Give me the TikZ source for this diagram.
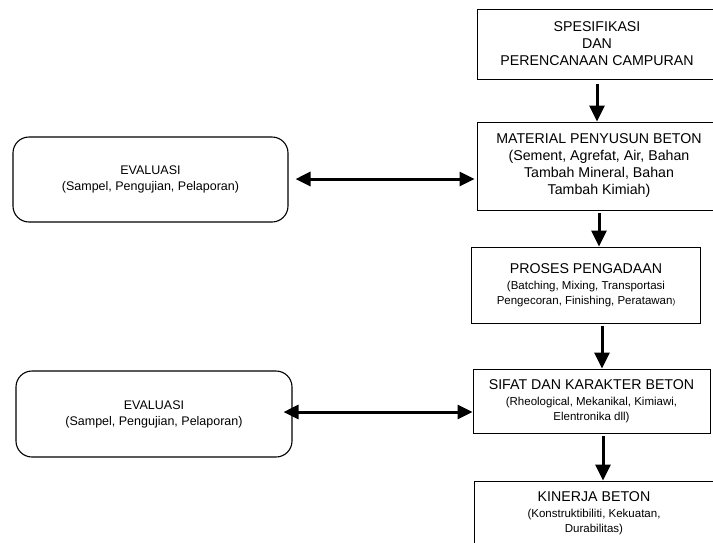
\documentclass[tikz,border=0pt]{standalone}
\usepackage{fontspec}
\setmainfont{Liberation Sans}
\usetikzlibrary{arrows.meta}
\begin{document}
\begin{tikzpicture}[x=1pt,y=-1pt,
  box/.style={draw,line width=1pt,align=center,inner sep=0pt},
  evalbox/.style={draw,line width=1.1pt,rounded corners=16pt,align=center,inner sep=0pt,
    font=\fontsize{12.5}{16}\selectfont},
  flow/.style={line width=3pt,-{Triangle[length=16pt,width=15pt]}},
  twoway/.style={line width=3pt,{Triangle[length=15pt,width=14pt]}-{Triangle[length=15pt,width=14pt]}},
  bigtext/.style={font=\fontsize{14.2}{17}\selectfont},
  smalltext/.style={font=\fontsize{11.5}{15}\selectfont}]
\useasboundingbox (0,0) rectangle (713,542);
\clip (0,0) rectangle (713,542);
\node[box,bigtext,minimum width=240pt,minimum height=70pt] (b1) at (597,44)
  {SPESIFIKASI\\DAN\\PERENCANAAN CAMPURAN};
\node[box,bigtext,minimum width=244pt,minimum height=88pt] (b2) at (599,166)
  {MATERIAL PENYUSUN BETON\\(Sement, Agrefat, Air, Bahan\\Tambah Mineral, Bahan\\Tambah Kimiah)};
\node[box,smalltext,minimum width=229pt,minimum height=76pt] (b3) at (586,285)
  {{\fontsize{14.2}{17}\selectfont PROSES PENGADAAN}\\[1pt](Batching, Mixing, Transportasi\\Pengecoran, Finishing, Peratawan{\fontsize{8}{8}\selectfont)}};
\node[box,smalltext,minimum width=237pt,minimum height=64pt] (b4) at (591.5,401)
  {{\fontsize{14.2}{17}\selectfont SIFAT DAN KARAKTER BETON}\\[1pt](Rheological, Mekanikal, Kimiawi,\\Elentronika dll)};
\node[box,smalltext,minimum width=240pt,minimum height=65pt] (b5) at (594,513.5)
  {{\fontsize{14.2}{17}\selectfont KINERJA BETON}\\[1pt](Konstruktibiliti, Kekuatan,\\Durabilitas)};
\node[evalbox,minimum width=275pt,minimum height=85pt] (e1) at (150.5,179.5)
  {EVALUASI\\(Sampel, Pengujian, Pelaporan)};
\node[evalbox,minimum width=276pt,minimum height=86pt] (e2) at (154,414)
  {EVALUASI\\(Sampel, Pengujian, Pelaporan)};
\draw[flow,shorten <=4pt] (b1.south) -- (b1.south |- b2.north);
\draw[flow,shorten <=2pt] (b2.south) -- (b2.south |- b3.north);
\draw[flow,shorten <=2pt] ([xshift=16pt]b3.south) -- ([xshift=16pt]b3.south |- b4.north);
\draw[flow,shorten <=2pt] ([xshift=11.5pt]b4.south) -- ([xshift=11.5pt]b4.south |- b5.north);
\draw[twoway,shorten <=7pt,shorten >=2pt] ([yshift=0.5pt]e1.east) -- ([yshift=0.5pt]e1.east -| b2.west);
\draw[twoway] ([xshift=-9pt,yshift=2pt]e2.east) -- ([yshift=2pt]e2.east -| b4.west);
\end{tikzpicture}
\end{document}
